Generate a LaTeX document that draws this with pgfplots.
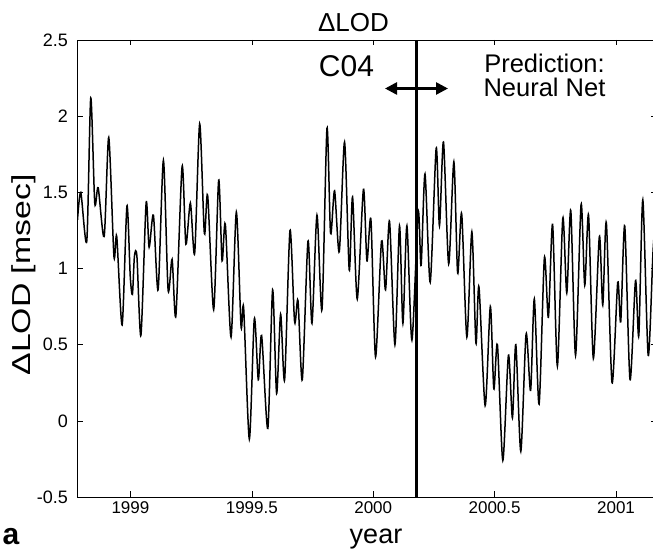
\documentclass[border=0pt]{standalone}
\usepackage{fontspec}
\setmainfont{Liberation Sans}
\usepackage{pgfplots}
\pgfplotsset{compat=1.18}
\usetikzlibrary{arrows.meta}

\pgfplotstableread{
year lod
1998.7820 1.32
1998.7955 1.50
1998.8202 1.18
1998.8366 2.12
1998.8531 1.43
1998.8671 1.53
1998.8918 1.21
1998.9107 1.86
1998.9321 1.08
1998.9436 1.21
1998.9658 0.63
1998.9856 1.41
1998.9992 0.95
1999.0082 0.83
1999.0165 1.08
1999.0267 1.08
1999.0432 0.56
1999.0646 1.43
1999.0770 1.14
1999.0947 1.35
1999.1140 0.86
1999.1358 1.71
1999.1551 0.86
1999.1716 1.06
1999.1872 0.69
1999.2128 1.67
1999.2284 1.16
1999.2469 1.43
1999.2646 1.10
1999.2852 1.95
1999.3045 1.23
1999.3181 1.48
1999.3428 0.73
1999.3634 1.58
1999.3774 1.05
1999.3909 1.29
1999.4144 0.55
1999.4362 1.37
1999.4556 0.62
1999.4663 0.74
1999.4897 -0.12
1999.5103 0.67
1999.5267 0.27
1999.5403 0.56
1999.5658 -0.05
1999.5856 0.86
1999.6021 0.18
1999.6185 0.70
1999.6350 0.27
1999.6572 1.25
1999.6761 0.65
1999.6901 0.79
1999.7078 0.27
1999.7313 1.18
1999.7477 0.64
1999.7683 1.35
1999.7889 0.73
1999.8095 1.92
1999.8243 1.23
1999.8407 1.51
1999.8601 1.11
1999.8819 1.83
1999.9012 0.99
1999.9148 1.47
1999.9342 0.80
1999.9597 1.52
1999.9741 1.05
1999.9905 1.32
2000.0095 0.42
2000.0342 1.18
2000.0506 0.86
2000.0671 1.31
2000.0893 0.50
2000.1082 1.28
2000.1222 0.64
2000.1387 1.28
2000.1593 0.53
2000.1852 1.37
2000.1971 1.02
2000.2132 1.62
2000.2346 0.91
2000.2593 1.79
2000.2728 1.28
2000.2893 1.83
2000.3107 1.03
2000.3321 1.70
2000.3477 0.97
2000.3642 1.36
2000.3856 0.55
2000.4062 1.24
2000.4230 0.51
2000.4354 0.88
2000.4609 0.10
2000.4823 0.75
2000.4967 0.21
2000.5115 0.50
2000.5337 -0.26
2000.5568 0.43
2000.5733 0.02
2000.5872 0.50
2000.6078 -0.20
2000.6296 0.57
2000.6481 0.20
2000.6634 0.80
2000.6831 0.11
2000.7049 1.07
2000.7214 0.68
2000.7387 1.29
2000.7584 0.36
2000.7807 1.33
2000.7971 0.84
2000.8136 1.38
2000.8333 0.43
2000.8560 1.42
2000.8712 0.89
2000.8868 1.35
2000.9066 0.41
2000.9313 1.21
2000.9453 0.76
2000.9601 1.30
2000.9835 0.25
2001.0070 0.91
2001.0193 0.65
2001.0358 1.28
2001.0576 0.27
2001.0802 0.92
2001.0938 0.56
2001.1103 1.45
2001.1325 0.43
2001.1523 1.11
2001.1646 1.38
}\lodtable

\begin{document}
\begin{tikzpicture}
% page = 653 x 550, axis box at (0,0)--(578.5,457); right edge is cut off
\useasboundingbox (-77.5bp,-53bp) rectangle (575.5bp,497bp);
\begin{axis}[
  scale only axis,
  width=578.5bp, height=457bp,
  xmin=1998.782, xmax=2001.1646,
  ymin=-0.5, ymax=2.5,
  xtick={1999,1999.5,2000,2000.5,2001},
  ytick={-0.5,0,0.5,1,1.5,2,2.5},
  tick align=inside,
  major tick length=5.5bp,
  tick style={black, line width=0.6bp},
  axis line style={black, line width=0.6bp},
  /pgf/number format/assume math mode=true,
  /pgf/number format/1000 sep={},
  xticklabel style={font=\fontsize{17bp}{20bp}\selectfont, yshift=-1.5bp},
  yticklabel style={font=\fontsize{18bp}{21bp}\selectfont, xshift=-6bp},
  clip=true,
]
\addplot[black, line width=1.5bp, smooth, tension=0.45] table[x=year, y=lod] {\lodtable};
% boundary between C04 data and the neural net prediction
\addplot[black, line width=3bp] coordinates {(2000.18,-0.5) (2000.18,2.5)};
\end{axis}

\node[anchor=base, font=\fontsize{26bp}{30bp}\selectfont] at (276bp,465bp) {ΔLOD};
\node[anchor=base, font=\fontsize{30bp}{34bp}\selectfont] at (269bp,420bp) {C04};
\draw[line width=2.6bp, {Triangle[length=12bp,width=12bp]}-{Triangle[length=12bp,width=12bp]}]
  (307.5bp,408.5bp) -- (370.5bp,408.5bp);
\node[anchor=base, font=\fontsize{25.5bp}{30bp}\selectfont] at (467bp,424.5bp) {Prediction:};
\node[anchor=base, font=\fontsize{25.5bp}{30bp}\selectfont] at (467bp,400.5bp) {Neural Net};
\node[rotate=90, font=\fontsize{26bp}{30bp}\selectfont] at (-53.5bp,222bp) {\scalebox{1.3}[1]{ΔLOD [msec]}};
\node[anchor=base, font=\fontsize{27bp}{30bp}\selectfont] at (298.5bp,-46bp) {year};
\node[anchor=base, font=\fontsize{30bp}{34bp}\selectfont\bfseries] at (-66.5bp,-47bp) {a};
\end{tikzpicture}
\end{document}
